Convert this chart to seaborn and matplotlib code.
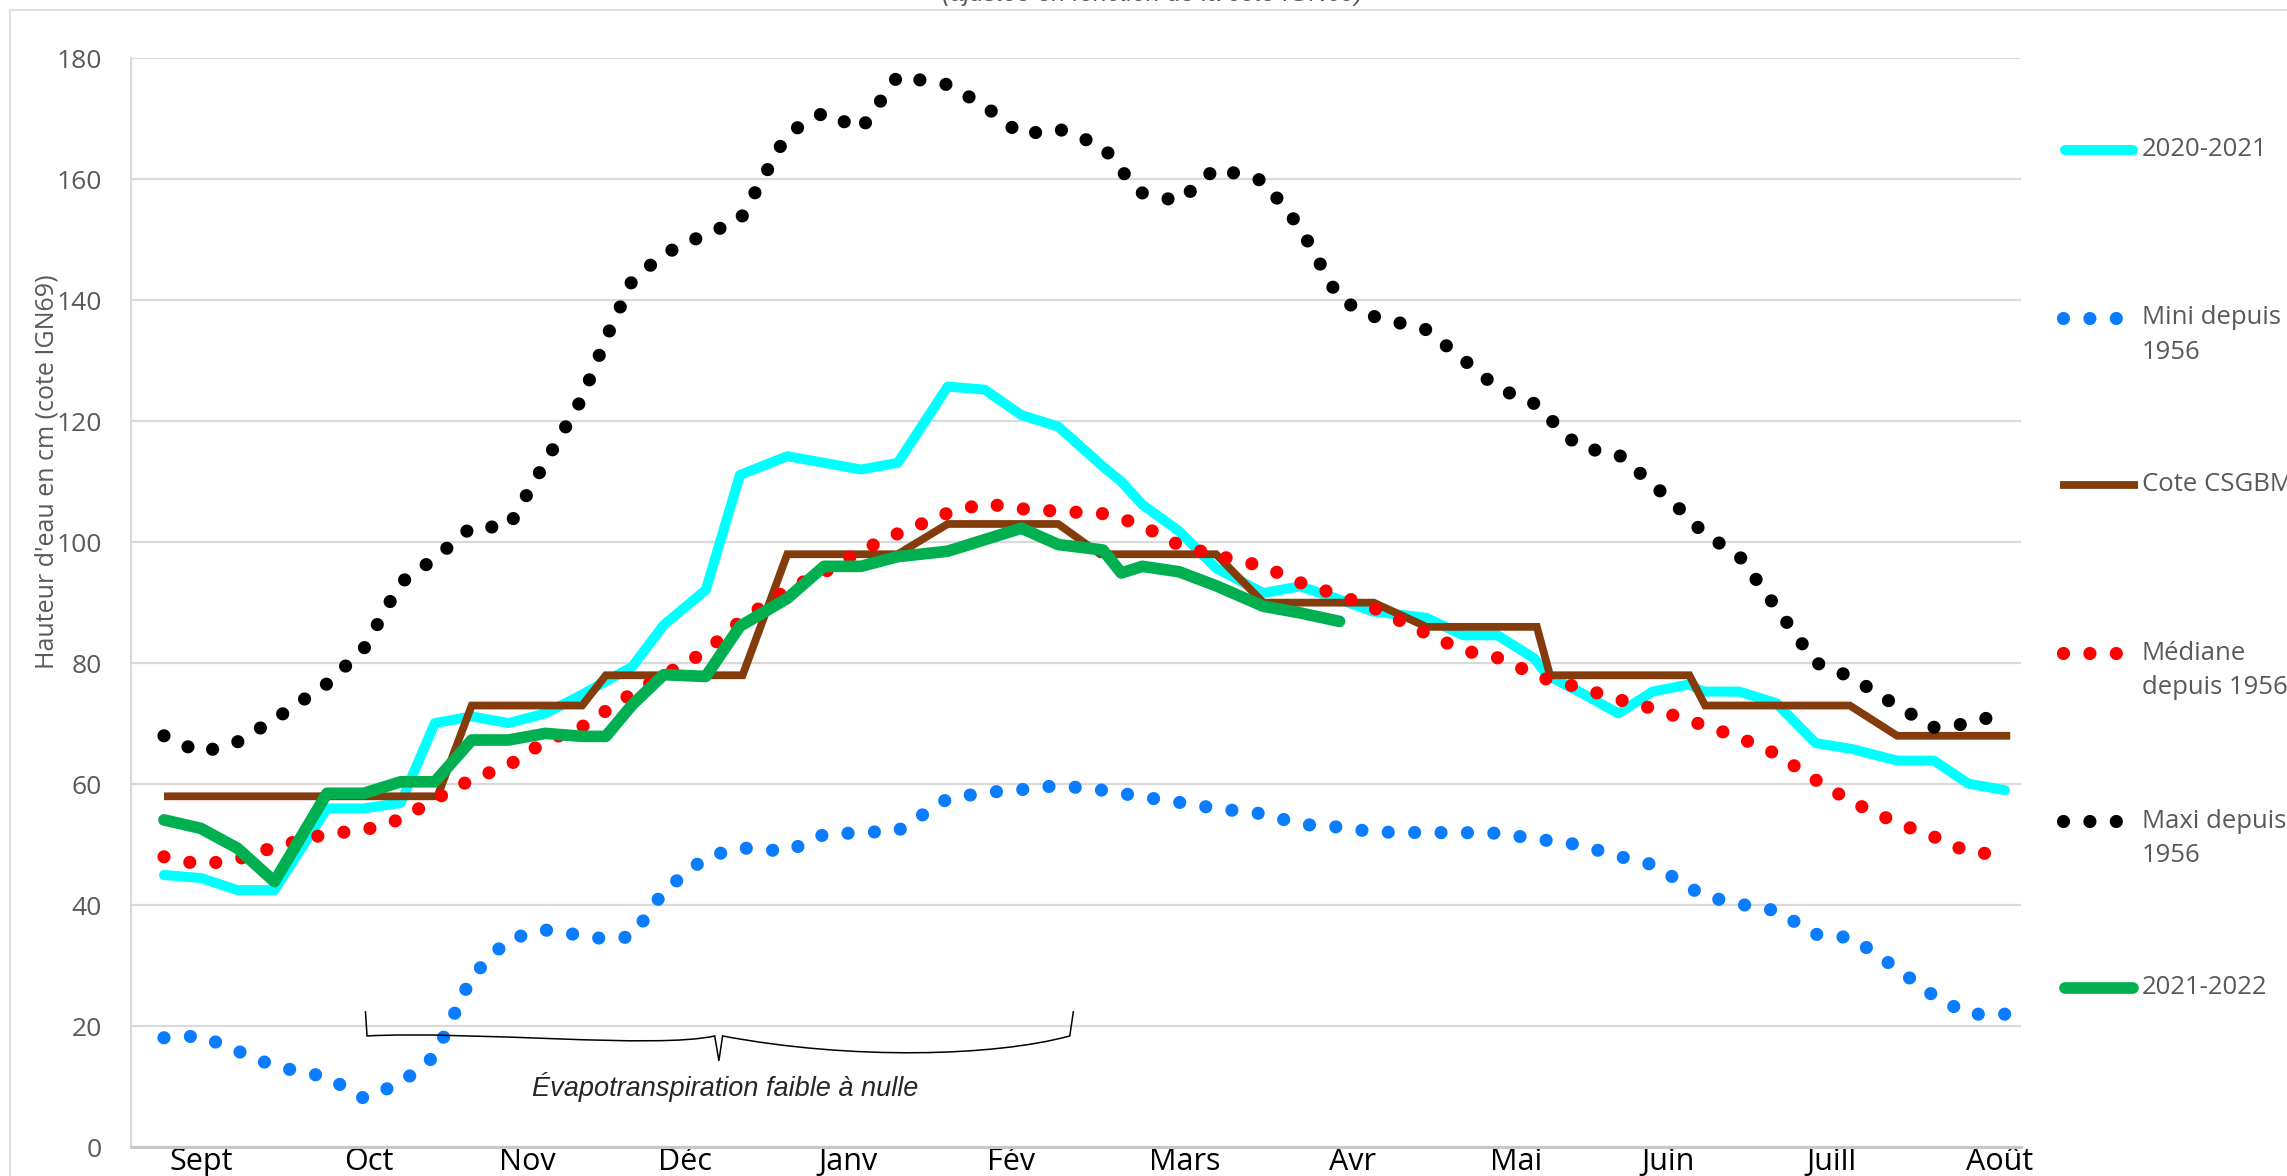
import matplotlib
matplotlib.use("Agg")
import matplotlib.pyplot as plt
from matplotlib.lines import Line2D
from matplotlib.path import Path
from matplotlib.patches import PathPatch
import seaborn as sns


# I. DONNEES

# jours depuis le premier relevé de septembre
JOURS = [0, 7, 14, 21, 31, 38, 45, 51.5, 58.5, 65.5, 72.5, 79.5, 84, 89, 95, 103,
         109.5, 118.5, 125.5, 132.5, 139.5, 149, 156, 163, 170, 178.5, 182, 186,
         193, 200, 209, 216, 223.5, 230, 240, 247, 253.5, 260.5, 263, 269, 276.5,
         283, 290, 292.5, 299.5, 306.5, 314, 321, 329.5, 336.5, 343, 350]

H_2020_2021 = [45.0, 44.5, 42.5, 42.5, 56.0, 56.0, 56.9, 70.1, 71.2, 70.1, 71.7, 74.8,
               77.0, 79.4, 86.3, 92.1, 111.1, 114.2, 113.1, 112.0, 113.1, 125.7, 125.2,
               121.0, 119.1, 112.5, 110.0, 106.2, 101.8, 95.7, 91.6, 92.7, 90.5, 88.5,
               87.5, 84.6, 84.6, 80.8, 78.0, 75.3, 71.7, 75.3, 76.5, 75.3, 75.3, 73.4,
               66.8, 65.8, 63.9, 63.9, 60.1, 59.0]

MINI_1956 = [18.1, 18.4, 15.9, 13.4, 11.6, 8.1, 10.6, 15.1, 28.2, 34.4, 35.9, 35.0,
             34.4, 34.8, 42.3, 47.9, 49.5, 48.9, 51.7, 52.0, 52.3, 57.6, 58.6, 59.1,
             59.8, 59.0, 58.5, 57.9, 57.0, 56.0, 55.1, 53.4, 52.9, 52.1, 52.0, 52.0,
             51.9, 51.0, 50.7, 50.0, 48.1, 46.7, 43.0, 41.6, 40.2, 39.1, 35.2, 34.6,
             29.5, 25.0, 22.0, 22.0]

MEDIANE_1956 = [48.0, 46.7, 47.6, 49.6, 51.8, 52.4, 54.2, 57.5, 60.8, 63.1, 67.1, 69.5,
                72.1, 75.0, 78.0, 81.9, 86.9, 92.2, 95.0, 98.6, 101.4, 104.8, 106.4,
                105.5, 105.1, 104.7, 103.9, 102.7, 99.5, 97.8, 96.0, 93.3, 91.2, 89.1,
                84.9, 82.1, 80.9, 78.2, 77.3, 76.0, 74.0, 72.5, 70.5, 69.8, 67.7, 65.0,
                60.7, 57.0, 53.6, 51.3, 48.8, 48.3]

MAXI_1956 = [68.0, 65.2, 67.0, 70.7, 76.6, 82.4, 93.3, 97.3, 102.5, 102.5, 113.2, 123.8,
             133.6, 143.2, 147.6, 150.9, 153.2, 167.5, 171.0, 168.2, 177.0, 175.6, 172.1,
             167.3, 168.3, 165.4, 161.4, 157.7, 156.3, 161.8, 159.7, 152.0, 140.1, 137.3,
             135.1, 130.2, 125.5, 122.9, 120.8, 115.7, 114.5, 109.6, 104.0, 101.6, 97.7,
             89.2, 80.1, 77.6, 72.9, 69.4, 70.0, 71.8]

# saison en cours : relevés jusqu'à début avril
H_2021_2022 = [54.1, 52.7, 49.4, 43.9, 58.5, 58.5, 60.4, 60.4, 67.3, 67.3, 68.4, 67.9,
               67.9, 73.1, 78.1, 77.8, 86.1, 90.7, 96.0, 96.0, 97.6, 98.5, 100.4, 102.3,
               99.6, 98.7, 94.9, 96.0, 95.1, 92.8, 89.4, 88.3, 86.9]

# cote de gestion CSGBM (paliers)
JOURS_COTE = [0, 52, 58.5, 79.5, 84, 110, 118.5, 139.5, 149, 170, 178, 200, 209, 230,
              240, 261, 263.5, 290, 293, 320.5, 329.5, 351]
COTE_CSGBM = [58, 58, 73, 73, 78, 78, 98, 98, 103, 103, 98, 98, 90, 90, 86, 86, 78, 78,
              73, 73, 68, 68]

MOIS = ["Sept", "Oct", "Nov", "Déc", "Janv", "Fév", "Mars", "Avr", "Mai", "Juin",
        "Juill", "Août"]
MOIS_JOURS = [7, 39, 69, 99, 130, 161, 194, 226, 257, 286, 317, 349]
Y_TICKS = list(range(0, 181, 20))


# II. STYLE

W, H = 2287, 1176
GRIS = "#595959"
DOT = (0, (0.001, 2.0))

STYLES = {
    "2020-2021": dict(color="#00FFFF", linewidth=7.2, linestyle="-",
                      solid_capstyle="round", solid_joinstyle="round"),
    "Mini depuis 1956": dict(color="#0A7CFF", linewidth=9.5, linestyle=DOT,
                             dash_capstyle="round"),
    "Cote CSGBM": dict(color="#843C0C", linewidth=5.6, linestyle="-",
                       solid_capstyle="butt", solid_joinstyle="miter"),
    "Médiane depuis 1956": dict(color="#FF0000", linewidth=9.5, linestyle=DOT,
                                dash_capstyle="round"),
    "Maxi depuis 1956": dict(color="#000000", linewidth=9.5, linestyle=DOT,
                             dash_capstyle="round"),
    "2021-2022": dict(color="#00B050", linewidth=8.4, linestyle="-",
                      solid_capstyle="round", solid_joinstyle="round"),
}


def fx(px):
    return px / W


def fy(py):
    return 1 - py / H


def accolade(ax, x0, xm, x1, y_haut, y_bas, y_pointe):
    """Accolade horizontale ouverte vers le haut, pointe vers le bas."""
    verts = [(x0, y_haut), (x0 + 0.3, y_bas),
             (x0 + 20, y_bas + 0.9), (xm - 12, y_bas - 2.2), (xm - 0.8, y_bas),
             (xm, y_pointe),
             (xm + 0.7, y_bas),
             (xm + 25, y_bas - 4.0), (x1 - 15, y_bas - 3.4), (x1 - 0.7, y_bas),
             (x1, y_haut)]
    codes = [Path.MOVETO, Path.LINETO,
             Path.CURVE4, Path.CURVE4, Path.CURVE4,
             Path.LINETO, Path.LINETO,
             Path.CURVE4, Path.CURVE4, Path.CURVE4,
             Path.LINETO]
    ax.add_patch(PathPatch(Path(verts, codes), facecolor='none', edgecolor='black',
                           linewidth=1.1, zorder=10))


# III. FIGURE

sns.set_style("white")
plt.rcParams['font.family'] = ['Open Sans', 'DejaVu Sans']

fig = plt.figure(figsize=(W / 100, H / 100), dpi=100)
ax = fig.add_axes([fx(131), fy(1147.3), fx(2020.6) - fx(131), fy(58) - fy(1147.3)])

series = [
    ("2020-2021", JOURS, H_2020_2021),
    ("Mini depuis 1956", JOURS, MINI_1956),
    ("Cote CSGBM", JOURS_COTE, COTE_CSGBM),
    ("Médiane depuis 1956", JOURS, MEDIANE_1956),
    ("Maxi depuis 1956", JOURS, MAXI_1956),
    ("2021-2022", JOURS[:len(H_2021_2022)], H_2021_2022),
]
for z, (name, x, y) in enumerate(series):
    sns.lineplot(x=x, y=y, ax=ax, sort=False, legend=False, errorbar=None,
                 zorder=3 + z, **STYLES[name])

ax.set_xlim(-6.27, 352.97)
ax.set_ylim(0, 180)
ax.set_yticks(Y_TICKS)
ax.set_xticks(MOIS_JOURS)
ax.set_xticklabels(MOIS)
ax.set_xlabel("")
ax.set_ylabel("")
ax.grid(axis='y', color="#D9D9D9", linewidth=1.6)
ax.grid(axis='x', visible=False)
ax.set_axisbelow(True)
for side in ['top', 'right']:
    ax.spines[side].set_visible(False)
ax.spines['left'].set_color("#D9D9D9")
ax.spines['left'].set_linewidth(1.5)
ax.spines['bottom'].set_color("#C8C8C8")
ax.spines['bottom'].set_linewidth(2.2)
ax.tick_params(axis='y', length=0, pad=21, labelsize=19, labelcolor=GRIS)
ax.tick_params(axis='x', length=0, pad=0, labelsize=22, labelcolor="black")

# accolade + texte
accolade(ax, 38.3, 105.5, 172.9, 22.5, 18.4, 14.3)
ax.text(106.7, 9.9, "Évapotranspiration faible à nulle", ha='center', va='center',
        fontsize=19.5, style='italic', family=['Liberation Sans', 'DejaVu Sans'])

# titre d'axe y
fig.text(fx(47), fy(472), "Hauteur d'eau en cm (cote IGN69)", rotation=90,
         ha='center', va='center', fontsize=18, color=GRIS)

# titre coupé en haut de l'image
fig.text(fx(1153), fy(1), "(ajustée en fonction de la cote IGN69)", ha='center',
         va='baseline', fontsize=18, style='italic', color=GRIS,
         family=['Liberation Sans', 'DejaVu Sans'])

# cadre du graphique
cadre = dict(color="#D9D9D9", linewidth=1.2, transform=fig.transFigure)
fig.add_artist(Line2D([fx(10), fx(10)], [0, fy(10)], **cadre))
fig.add_artist(Line2D([fx(10), 1], [fy(10), fy(10)], **cadre))

# légende à droite
LEGENDE = [
    ("2020-2021", ["2020-2021"], 150),
    ("Mini depuis 1956", ["Mini depuis", "1956"], 318),
    ("Cote CSGBM", ["Cote CSGBM"], 485),
    ("Médiane depuis 1956", ["Médiane", "depuis 1956"], 653),
    ("Maxi depuis 1956", ["Maxi depuis", "1956"], 821),
    ("2021-2022", ["2021-2022"], 988),
]
for name, lines, py in LEGENDE:
    st = dict(STYLES[name])
    if st['linestyle'] == DOT:
        x0, x1 = 2063, 2117
    elif st.get('solid_capstyle') == 'round':
        x0, x1 = 2065, 2133
    else:
        x0, x1 = 2060, 2138
    fig.add_artist(Line2D([fx(x0), fx(x1)], [fy(py), fy(py)],
                          transform=fig.transFigure, **st))
    for k, txt in enumerate(lines):
        fig.text(fx(2142), fy(py + 35 * k), txt, ha='left', va='center',
                 fontsize=18.5, color=GRIS)

fig.savefig("out.png", dpi=100)
